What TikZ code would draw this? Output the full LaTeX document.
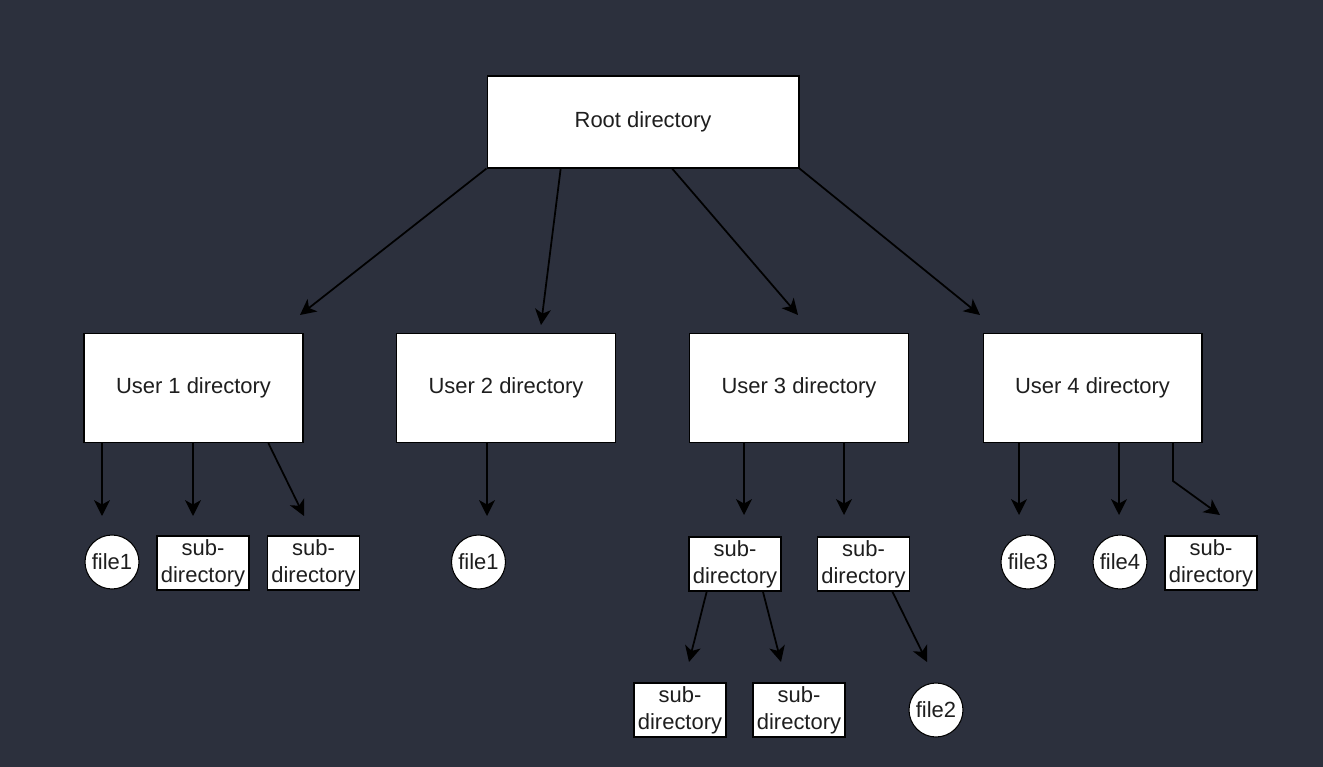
\documentclass[tikz,border=0pt]{standalone}
\usepackage{fontspec}
\setmainfont{Liberation Sans}
\usetikzlibrary{arrows.meta,calc}
\definecolor{bg}{RGB}{44,48,61}
\definecolor{txt}{RGB}{30,30,30}
\begin{document}
\begin{tikzpicture}[x=0.02cm,y=-0.02cm,
  box/.style={draw=black,line width=0.6pt,fill=white,inner sep=0pt,text=txt,font=\fontsize{12.5}{15.4}\selectfont,align=center},
  big/.style={box,minimum width=4.38cm,minimum height=2.18cm},
  rootbox/.style={box,minimum width=6.24cm,minimum height=1.84cm},
  small/.style={box,minimum width=1.84cm,minimum height=1.08cm},
  file/.style={box,circle,minimum size=1.08cm},
  arr/.style={draw=black,line width=1pt,-{Stealth[length=9pt,width=9pt,inset=2.5pt]}}]
\fill[bg] (0,0) rectangle (1323,767);
\useasboundingbox (0,0) rectangle (1323,767);
% nodes
\node[rootbox] (root) at (643,122) {\raisebox{-1.2pt}{Root directory}};
\node[big] (u1) at (193.5,388) {\raisebox{-1.2pt}{User 1 directory}};
\node[big] (u2) at (506,388) {\raisebox{-1.2pt}{User 2 directory}};
\node[big] (u3) at (799,388) {\raisebox{-1.2pt}{User 3 directory}};
\node[big] (u4) at (1092.5,388) {\raisebox{-1.2pt}{User 4 directory}};
\node[file] (f11) at (112,562) {file1};
\node[small] (s11) at (203,563) {sub-\\directory};
\node[small] (s12) at (313.5,563) {sub-\\directory};
\node[file] (f21) at (478.5,562) {file1};
\node[small] (s31) at (735,564) {sub-\\directory};
\node[small] (s32) at (863.5,564) {sub-\\directory};
\node[small] (s33) at (680,710) {sub-\\directory};
\node[small] (s34) at (799,710) {sub-\\directory};
\node[file] (f2) at (936,710) {file2};
\node[file] (f3) at (1028,562) {file3};
\node[file] (f4) at (1120,562) {file4};
\node[small] (s41) at (1211,563) {sub-\\directory};
% free ends
\coordinate (e1) at (300,315);
\coordinate (e2) at (541,325);
\coordinate (e3) at (798,315);
\coordinate (e4) at (980,315);
\coordinate (e11) at (102,516);
\coordinate (e12) at (193,516);
\coordinate (e13) at (304,516);
\coordinate (e21) at (487,516);
\coordinate (e31) at (744,515);
\coordinate (e32) at (844,515);
\coordinate (e33) at (689,662);
\coordinate (e34) at (781,662);
\coordinate (e35) at (927,662);
\coordinate (e41) at (1019,515);
\coordinate (e42) at (1119,515);
\coordinate (e43) at (1220,515);
\coordinate (b43) at (1173,481);
% connectors
\draw[arr] (root.south west) -- (e1);
\draw[arr] ($(root.south west)!0.237!(root.south east)$) -- (e2);
\draw[arr] ($(root.south west)!0.593!(root.south east)$) -- (e3);
\draw[arr] (root.south east) -- (e4);
\draw[arr] (u1.south -| e11) -- (e11);
\draw[arr] (u1.south -| e12) -- (e12);
\draw[arr] ($(u1.south west)!0.84!(u1.south east)$) -- (e13);
\draw[arr] (u2.south -| e21) -- (e21);
\draw[arr] (u3.south -| e31) -- (e31);
\draw[arr] (u3.south -| e32) -- (e32);
\draw[arr] ($(s31.south west)!0.196!(s31.south east)$) -- (e33);
\draw[arr] ($(s31.south west)!0.80!(s31.south east)$) -- (e34);
\draw[arr] ($(s32.south west)!0.81!(s32.south east)$) -- (e35);
\draw[arr] (u4.south -| e41) -- (e41);
\draw[arr] (u4.south -| e42) -- (e42);
\draw[arr] (u4.south -| b43) -- (b43) -- (e43);
\end{tikzpicture}
\end{document}
